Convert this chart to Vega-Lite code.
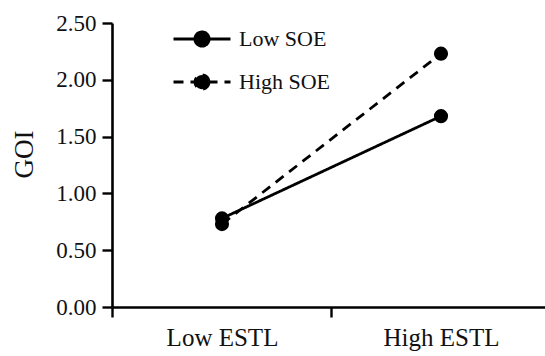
{
  "$schema": "https://vega.github.io/schema/vega-lite/v6.json",
  "width": 433,
  "height": 284,
  "autosize": {"type": "none"},
  "padding": {"left": 112, "top": 23, "right": 0, "bottom": 49},
  "background": "white",
  "config": {
    "view": {"stroke": null},
    "font": "Liberation Serif"
  },
  "data": {
    "values": [
      {"estl": "Low ESTL", "soe": "High SOE", "goi": 0.73},
      {"estl": "High ESTL", "soe": "High SOE", "goi": 2.23},
      {"estl": "Low ESTL", "soe": "Low SOE", "goi": 0.78},
      {"estl": "High ESTL", "soe": "Low SOE", "goi": 1.68}
    ]
  },
  "encoding": {
    "x": {
      "field": "estl",
      "type": "nominal",
      "sort": ["Low ESTL", "High ESTL"],
      "scale": {"type": "point", "padding": 0.4886, "align": 0.514},
      "axis": {
        "title": null,
        "labelAngle": 0,
        "labelFont": "Liberation Serif",
        "labelFontSize": 25,
        "labelColor": "#111111",
        "labelPadding": 8,
        "tickOffset": -109.5,
        "labelOffset": 109.5,
        "tickSize": 10,
        "tickWidth": 2.4,
        "tickColor": "black",
        "domainColor": "black",
        "domainWidth": 2.6
      }
    },
    "y": {
      "field": "goi",
      "type": "quantitative",
      "scale": {"domain": [0, 2.5], "nice": false},
      "axis": {
        "title": "GOI",
        "titleFont": "Liberation Serif",
        "titleFontSize": 27,
        "titleFontWeight": "normal",
        "titleColor": "#111111",
        "titleX": -80,
        "titleY": 131,
        "titleBaseline": "alphabetic",
        "titleAlign": "center",
        "titleAngle": 270,
        "values": [0, 0.5, 1, 1.5, 2, 2.5],
        "format": ".2f",
        "grid": false,
        "labelFont": "Liberation Serif",
        "labelFontSize": 23,
        "labelColor": "#111111",
        "labelPadding": 6,
        "tickSize": 10,
        "tickWidth": 2.4,
        "tickColor": "black",
        "domainColor": "black",
        "domainWidth": 2.6
      }
    }
  },
  "layer": [
    {
      "mark": {"type": "line", "color": "black", "strokeWidth": 2.8},
      "encoding": {
        "detail": {"field": "soe"},
        "strokeDash": {
          "field": "soe",
          "type": "nominal",
          "scale": {"domain": ["Low SOE", "High SOE"], "range": [[1, 0], [10, 7]]},
          "legend": {
            "title": null,
            "orient": "none",
            "legendX": 60,
            "legendY": -14,
            "symbolType": "M -1 0 L 1 0 M 0.25 0 A 0.25 0.25 0 1 1 -0.25 0 A 0.25 0.25 0 1 1 0.25 0 Z",
            "symbolSize": 3249,
            "symbolStrokeWidth": 2.8,
            "symbolStrokeColor": "black",
            "symbolFillColor": "black",
            "labelFont": "Liberation Serif",
            "labelFontSize": 22,
            "labelColor": "#111111",
            "labelOffset": 7,
            "rowPadding": -6
          }
        }
      }
    },
    {
      "mark": {"type": "point", "filled": true, "color": "black", "size": 200, "opacity": 1},
      "encoding": {"detail": {"field": "soe"}}
    }
  ]
}
